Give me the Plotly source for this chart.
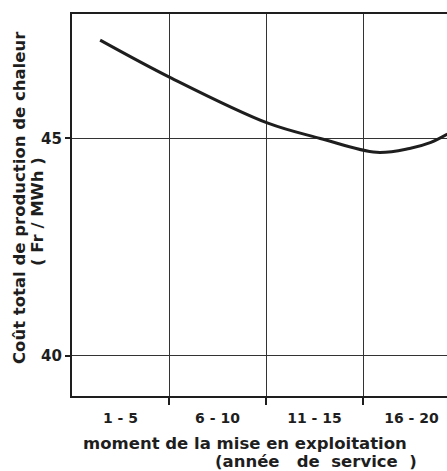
import plotly.graph_objects as go

# categories (intervals of service years) and their centres on the axis
categories = ["1 - 5", "6 - 10", "11 - 15", "16 - 20"]
category_centres = [0.5, 1.5, 2.5, 3.5]
category_bounds = [1, 2, 3]

# curve: position along the service-year axis (category units) and cost (Fr/MWh)
curve_pos = [0.29, 1.03, 2.02, 2.56, 3.14, 3.48, 3.70, 3.87]
curve_cost = [47.26, 46.38, 45.35, 45.00, 44.68, 44.77, 44.91, 45.10]

y_ticks = [40, 45]
y_tick_text = ["40", "45"]

ink = "#1e1e1e"
font_family = "DejaVu Sans"
W, H = 447, 471
L, T, B = 72, 14, 75
PW, PH = W - L, H - T - B

fig = go.Figure()
fig.add_trace(go.Scatter(
    x=curve_pos, y=curve_cost, mode="lines",
    line=dict(color=ink, width=3, shape="spline", smoothing=1.0),
    hoverinfo="skip", showlegend=False,
))

fig.update_layout(
    width=W, height=H,
    margin=dict(l=L, r=0, t=T, b=B, autoexpand=False),
    paper_bgcolor="white", plot_bgcolor="white",
    font=dict(family=font_family, color=ink),
    showlegend=False,
)

fig.update_xaxes(
    range=[0, 3.866], automargin=False,
    tickvals=category_centres, ticktext=[f"<b>{c}</b>" for c in categories],
    ticks="", ticklen=0, ticklabelstandoff=8, showgrid=False, zeroline=False,
    tickfont=dict(size=14, family=font_family, color=ink),
    showline=True, linecolor=ink, linewidth=2.2, mirror=True,
    minor=dict(tickvals=category_bounds, ticks="outside", ticklen=7,
               tickwidth=1.5, tickcolor=ink, showgrid=True,
               gridcolor="#333", gridwidth=1),
)
fig.update_yaxes(
    range=[39.08, 47.86], automargin=False,
    tickvals=y_ticks, ticktext=[f"<b>{t}</b>" for t in y_tick_text],
    ticks="outside", ticklen=5, tickwidth=1.5, tickcolor=ink,
    showgrid=True, gridcolor="#333", gridwidth=1, zeroline=False,
    tickfont=dict(size=15, family=font_family, color=ink),
    showline=True, linecolor=ink, linewidth=2.2, mirror=False,
)

def px_x(p):
    return (p - L) / PW

def px_y(p):
    return (H - B - p) / PH

title_font = dict(size=16.5, family=font_family, color=ink)
# y-axis title (two lines, rotated)
fig.add_annotation(
    text="<b>Coût total de production de chaleur</b>",
    xref="paper", yref="paper", x=px_x(20), y=px_y(198),
    xanchor="center", yanchor="middle", textangle=-90, showarrow=False,
    font=title_font,
)
fig.add_annotation(
    text="<b>( Fr / MWh )</b>",
    xref="paper", yref="paper", x=px_x(38), y=px_y(212),
    xanchor="center", yanchor="middle", textangle=-90, showarrow=False,
    font=title_font,
)
# x-axis title (two lines)
fig.add_annotation(
    text="<b>moment de la mise en exploitation</b>",
    xref="paper", yref="paper", x=px_x(245), y=px_y(443),
    xanchor="center", yanchor="middle", showarrow=False,
    font=title_font,
)
fig.add_annotation(
    text="<b>(année   de  service  )</b>",
    xref="paper", yref="paper", x=px_x(316), y=px_y(462),
    xanchor="center", yanchor="middle", showarrow=False,
    font=title_font,
)

fig.write_html("out.html", config={"displayModeBar": False},
               post_script="document.body.style.margin='0';")
